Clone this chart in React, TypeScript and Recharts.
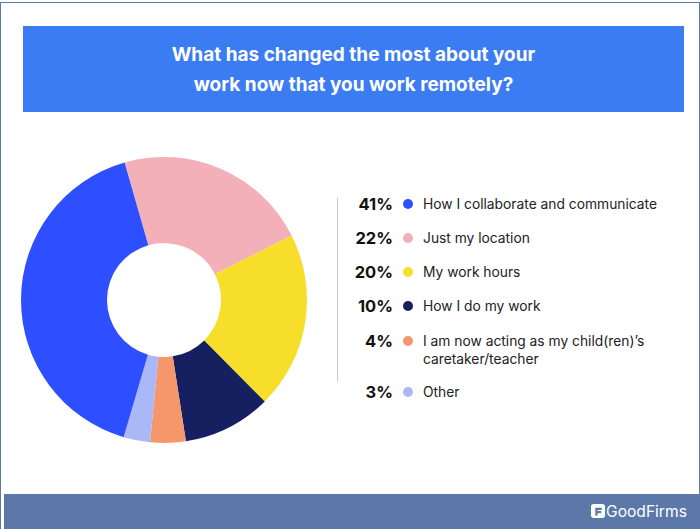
import { PieChart, Pie, Cell } from "recharts";

// slices in clockwise order starting from the top-left edge
const labels = [
  "Just my location",
  "My work hours",
  "How I do my work",
  "I am now acting as my child(ren)’s caretaker/teacher",
  "Other",
  "How I collaborate and communicate",
];
const shares = [22, 20, 10, 4, 3, 41];
const sliceColors = ["#f3b0b8", "#f7de2b", "#162061", "#f6976b", "#abb8f7", "#2e4fff"];

// legend order as shown on the right
const legendOrder = [5, 0, 1, 2, 3, 4];
const legendTops = [204, 238, 272, 306, 341, 392];

const FONT = "Inter, 'Noto Sans', sans-serif";

export default function App() {
  const data = labels.map((name, i) => ({ name, value: shares[i] }));

  return (
    <div
      style={{
        position: "absolute",
        left: 0,
        top: 0,
        width: 700,
        height: 529,
        background: "#fff",
        fontFamily: FONT,
        overflow: "hidden",
      }}
    >
      {/* outer frame */}
      <div
        style={{
          position: "absolute",
          left: 0,
          top: 2,
          width: 700,
          height: 540,
          border: "1px solid #5b78ab",
          boxSizing: "border-box",
        }}
      />

      {/* title box */}
      <div
        style={{
          position: "absolute",
          left: 23,
          top: 26,
          width: 661,
          height: 86,
          background: "#3b7cf3",
          color: "#fff",
          fontWeight: 700,
          fontSize: 19,
          lineHeight: "30px",
          textAlign: "center",
          paddingTop: 14,
          boxSizing: "border-box",
        }}
      >
        What has changed the most about your
        <br />
        work now that you work remotely?
      </div>

      {/* donut */}
      <div style={{ position: "absolute", left: 9, top: 145 }}>
        <PieChart width={310} height={310} margin={{ top: 0, right: 0, bottom: 0, left: 0 }}>
          <Pie
            data={data}
            dataKey="value"
            nameKey="name"
            cx={155}
            cy={155}
            innerRadius={57}
            outerRadius={143}
            startAngle={106}
            endAngle={-254}
            stroke="none"
            isAnimationActive={false}
          >
            {data.map((_, i) => (
              <Cell key={`c-${i}`} fill={sliceColors[i]} />
            ))}
          </Pie>
        </PieChart>
      </div>

      {/* divider */}
      <div
        style={{
          position: "absolute",
          left: 337,
          top: 197,
          width: 1,
          height: 185,
          background: "#cfcfcf",
        }}
      />

      {/* legend */}
      {legendOrder.map((idx, row) => (
        <div
          key={labels[idx]}
          style={{ position: "absolute", left: 340, top: legendTops[row] - 10, width: 340 }}
        >
          <span
            style={{
              position: "absolute",
              left: 0,
              width: 53,
              textAlign: "right",
              fontWeight: 700,
              fontSize: 16.5,
              lineHeight: "20px",
              color: "#111",
            }}
          >
            {shares[idx]}%
          </span>
          <span
            style={{
              position: "absolute",
              left: 63,
              top: 5,
              width: 10,
              height: 10,
              borderRadius: 5,
              background: sliceColors[idx],
            }}
          />
          <span
            style={{
              position: "absolute",
              left: 83,
              width: 240,
              fontSize: 13.8,
              lineHeight: "18px",
              top: 1,
              color: "#222",
            }}
          >
            {labels[idx]}
          </span>
        </div>
      ))}

      {/* footer */}
      <div
        style={{
          position: "absolute",
          left: 4,
          top: 494,
          width: 696,
          height: 35,
          background: "#5b78a9",
        }}
      >
        <svg
          width={14}
          height={14}
          style={{ position: "absolute", left: 587, top: 10 }}
          viewBox="0 0 13 13"
        >
          <rect x={0} y={0} width={13} height={13} rx={2.5} fill="#fff" />
          <path d="M4 3.5h6v2H6v1h3.5v2H6V11H4z" fill="#5b78a9" />
        </svg>
        <span
          style={{
            position: "absolute",
            left: 602,
            top: 8,
            color: "#fff",
            fontSize: 15.6,
            lineHeight: "20px",
          }}
        >
          GoodFirms
        </span>
      </div>
    </div>
  );
}
